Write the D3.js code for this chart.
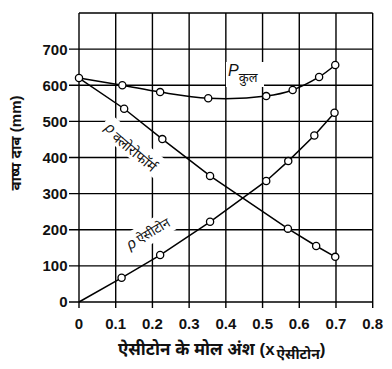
<!DOCTYPE html>
<html><head><meta charset="utf-8">
<script src="https://cdn.jsdelivr.net/npm/d3@7"></script>
<style>
body{margin:0;background:#fff;}
svg{display:block;}
text{font-family:"Liberation Sans",Arial,"Noto Sans Devanagari","Noto Sans",sans-serif;fill:#111;}
</style></head>
<body>
<svg id="c" width="392" height="369"></svg>
<script>
// ---- data ----
const xTicks = [0, 0.1, 0.2, 0.3, 0.4, 0.5, 0.6, 0.7, 0.8];
const yTicks = [0, 100, 200, 300, 400, 500, 600, 700, 800];
const yTickLabels = ["0","100","200","300","400","500","600","700",""];
const xTickLabels = ["0","0.1","0.2","0.3","0.4","0.5","0.6","0.7","0.8"];
const totalX = [0, 0.118, 0.221, 0.352, 0.51, 0.582, 0.654, 0.698];
const totalY = [620, 600, 581, 564, 570, 587, 623, 656];
const chloroX = [0, 0.123, 0.227, 0.357, 0.569, 0.646, 0.698];
const chloroY = [620, 535, 451, 349, 203, 155, 125];
const acetoneX = [0, 0.116, 0.221, 0.357, 0.51, 0.570, 0.641, 0.696];
const acetoneY = [0, 67, 130, 222, 335, 390, 461, 524];

const svg = d3.select("#c");
const x = d3.scaleLinear().domain([0, 0.8]).range([79, 372.7]);
const y = d3.scaleLinear().domain([0, 800]).range([302, 13]);

// grid
const g = svg.append("g");
g.selectAll(".vx").data(xTicks).enter().append("line")
  .attr("x1", d => x(d)).attr("x2", d => x(d))
  .attr("y1", y(800)).attr("y2", y(0) + 6)
  .attr("stroke", "#000").attr("stroke-width", 1.4);
g.selectAll(".hy").data(yTicks).enter().append("line")
  .attr("y1", d => y(d)).attr("y2", d => y(d))
  .attr("x1", d => d === 800 ? x(0) : x(0) - 10).attr("x2", x(0.8))
  .attr("stroke", "#000").attr("stroke-width", 1.4);

// tick labels
svg.selectAll(".yl").data(yTicks).enter().append("text")
  .attr("x", 67.5).attr("y", d => y(d)).attr("dy", "0.36em")
  .attr("text-anchor", "end").attr("font-size", 15).attr("font-weight", "bold").attr("fill", "#222")
  .text((d, i) => yTickLabels[i]);
svg.selectAll(".xl").data(xTicks).enter().append("text")
  .attr("x", d => x(d)).attr("y", 328.5)
  .attr("text-anchor", "middle").attr("font-size", 15).attr("font-weight", "bold").attr("fill", "#222")
  .text((d, i) => xTickLabels[i]);

// label backgrounds (white-out behind curve labels)
function labelBg(tx, ty, rot, w, h, ox, oy) {
  svg.append("rect").attr("x", ox).attr("y", oy).attr("width", w).attr("height", h)
    .attr("fill", "#fff")
    .attr("transform", `translate(${tx},${ty}) rotate(${rot})`);
}
labelBg(104, 129, 40, 86, 22, -4, -16);
labelBg(130, 250, -31, 62, 22, -4, -16);
svg.append("rect").attr("x", 226).attr("y", 62).attr("width", 38).attr("height", 25).attr("fill", "#fff");

// lines
const zip = (xs, ys) => xs.map((v, i) => [v, ys[i]]);
const total = zip(totalX, totalY), chloro = zip(chloroX, chloroY), acetone = zip(acetoneX, acetoneY);
const lineC = d3.line().x(d => x(d[0])).y(d => y(d[1])).curve(d3.curveCatmullRom.alpha(0.5));
const lineL = d3.line().x(d => x(d[0])).y(d => y(d[1]));
svg.append("path").attr("d", lineC(total)).attr("fill", "none").attr("stroke", "#000").attr("stroke-width", 1.5);
svg.append("path").attr("d", lineL(chloro)).attr("fill", "none").attr("stroke", "#000").attr("stroke-width", 1.5);
svg.append("path").attr("d", lineL(acetone)).attr("fill", "none").attr("stroke", "#000").attr("stroke-width", 1.5);

// points
const pts = total.concat(chloro.slice(1), acetone.slice(1));
svg.selectAll(".pt").data(pts).enter().append("circle")
  .attr("cx", d => x(d[0])).attr("cy", d => y(d[1])).attr("r", 3.6)
  .attr("fill", "#fff").attr("stroke", "#000").attr("stroke-width", 1.3);

// curve labels
const tl = svg.append("text").attr("x", 228).attr("y", 76);
tl.append("tspan").attr("font-size", 16).attr("font-style", "italic").text("P");
tl.append("tspan").attr("font-size", 13).attr("dy", 6).text("कुल");

const cl = svg.append("text").attr("transform", "translate(104,129) rotate(40)");
cl.append("tspan").attr("font-size", 15).attr("font-style", "italic").text("ρ");
cl.append("tspan").attr("font-size", 14).attr("dx", 3).attr("dy", 3).text("क्लोरोफॉर्म");

const al = svg.append("text").attr("transform", "translate(130,250) rotate(-31)");
al.append("tspan").attr("font-size", 15).attr("font-style", "italic").text("ρ");
al.append("tspan").attr("font-size", 13).attr("dx", 3).attr("dy", 0).text("ऐसीटोन");

// axis titles
svg.append("text").attr("transform", "translate(21,143) rotate(-90)")
  .attr("text-anchor", "middle").attr("font-size", 15).attr("font-weight", "bold").attr("fill", "#222")
  .text("वाष्प दाब (mm)");

const xt = svg.append("text").attr("x", 118).attr("y", 355).attr("font-size", 17)
  .attr("font-weight", "bold").attr("fill", "#222");
xt.append("tspan").text("ऐसीटोन के मोल अंश (x");
xt.append("tspan").attr("font-size", 14).attr("dy", 4).attr("dx", 2).text("ऐसीटोन");
xt.append("tspan").attr("dy", -4).text(")");
</script>
</body></html>
